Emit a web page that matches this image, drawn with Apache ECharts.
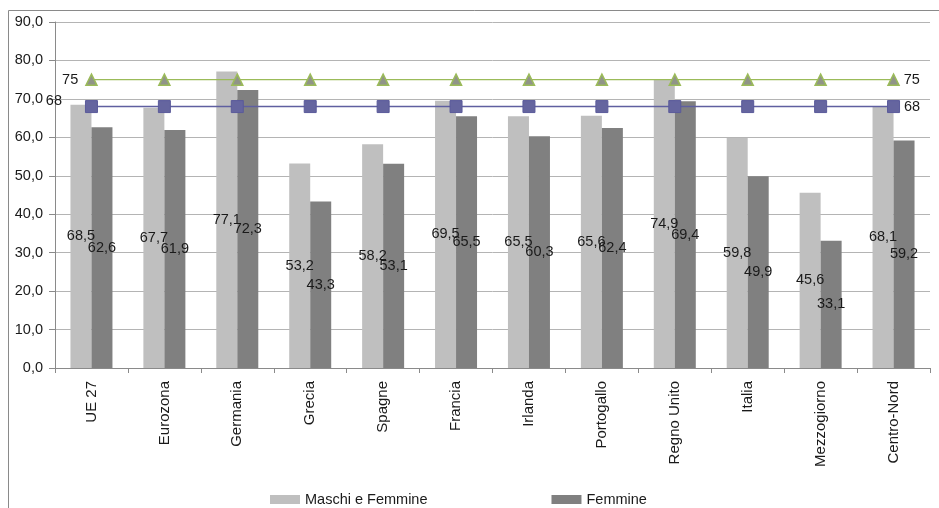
<!DOCTYPE html>
<html>
<head>
<meta charset="utf-8">
<script src="https://cdn.jsdelivr.net/npm/echarts@6/dist/echarts.min.js"></script>
<style>
  html, body { margin: 0; padding: 0; background: #fff; }
  #chart { width: 939px; height: 508px; }
</style>
</head>
<body>
<div id="chart"></div>
<script>
// Tasso di occupazione per area
const categories = ['UE 27', 'Eurozona', 'Germania', 'Grecia', 'Spagne', 'Francia', 'Irlanda', 'Portogallo', 'Regno Unito', 'Italia', 'Mezzogiorno', 'Centro-Nord'];
const maschiEFemmine = [68.5, 67.7, 77.1, 53.2, 58.2, 69.5, 65.5, 65.6, 74.9, 59.8, 45.6, 68.1];
const femmine = [62.6, 61.9, 72.3, 43.3, 53.1, 65.5, 60.3, 62.4, 69.4, 49.9, 33.1, 59.2];
const obiettivo75 = [75, 75, 75, 75, 75, 75, 75, 75, 75, 75, 75, 75];
const obiettivo68 = [68, 68, 68, 68, 68, 68, 68, 68, 68, 68, 68, 68];
const seriesNames = ['Maschi e Femmine', 'Femmine'];

const FONT = 'Liberation Sans';
const comma1 = v => v.toFixed(1).replace('.', ',');

// Only the first and last points of a target line carry a label
function endLabels(values, firstOffset) {
  return values.map((v, i) => {
    if (i === 0) {
      return { value: v, label: { show: true, position: 'left', offset: firstOffset } };
    }
    if (i === values.length - 1) {
      return { value: v, label: { show: true, position: 'right', distance: 4 } };
    }
    return v;
  });
}

const chart = echarts.init(document.getElementById('chart'), null, { renderer: 'canvas' });
chart.setOption({
  animation: false,
  backgroundColor: '#ffffff',
  textStyle: { fontFamily: FONT },
  graphic: [{
    type: 'rect',
    shape: { x: 8.5, y: 10.5, width: 940, height: 510 },
    style: { fill: 'none', stroke: '#8a8a8a', lineWidth: 1 },
    silent: true
  }],
  grid: { left: 55, right: 9, top: 22, bottom: 140, containLabel: false },
  legend: {
    data: seriesNames,
    left: 265,
    top: 487,
    itemWidth: 30,
    itemHeight: 9,
    itemGap: 124,
    icon: 'rect',
    textStyle: { fontFamily: FONT, fontSize: 14.5, color: '#1a1a1a' }
  },
  xAxis: {
    type: 'category',
    data: categories,
    boundaryGap: true,
    axisLine: { lineStyle: { color: '#8a8a8a' } },
    axisTick: { show: true, length: 5, alignWithLabel: false, lineStyle: { color: '#8a8a8a' } },
    axisLabel: { rotate: 90, margin: 13, fontFamily: FONT, fontSize: 15, color: '#1a1a1a', interval: 0 }
  },
  yAxis: {
    type: 'value',
    min: 0,
    max: 90,
    interval: 10,
    axisLine: { show: true, lineStyle: { color: '#8a8a8a' } },
    axisTick: { show: true, length: 6, lineStyle: { color: '#8a8a8a' } },
    splitLine: { lineStyle: { color: '#b4b4b4' } },
    axisLabel: { margin: 12, fontFamily: FONT, fontSize: 14.5, color: '#1a1a1a', formatter: comma1 }
  },
  series: [
    {
      name: seriesNames[0],
      type: 'bar',
      data: maschiEFemmine,
      barWidth: 21,
      barGap: '0%',
      itemStyle: { color: '#bfbfbf' },
      label: { show: true, position: 'inside', fontFamily: FONT, fontSize: 14.5, color: '#1a1a1a', formatter: p => comma1(p.value) },
      z: 2
    },
    {
      name: seriesNames[1],
      type: 'bar',
      data: femmine,
      barWidth: 21,
      barGap: '0%',
      itemStyle: { color: '#808080' },
      label: { show: true, position: 'inside', fontFamily: FONT, fontSize: 14.5, color: '#1a1a1a', formatter: p => comma1(p.value) },
      z: 2
    },
    {
      name: 'Obiettivo UE',
      type: 'line',
      data: endLabels(obiettivo75, [-2, 0]),
      symbol: 'triangle',
      symbolSize: 11,
      lineStyle: { color: '#9bbb59', width: 1.2 },
      itemStyle: { color: '#909488', borderColor: '#9bbb59', borderWidth: 1.5 },
      label: { show: false, fontFamily: FONT, fontSize: 14.5, color: '#1a1a1a' },
      z: 5
    },
    {
      name: 'Obiettivo Italia',
      type: 'line',
      data: endLabels(obiettivo68, [-18, -6]),
      symbol: 'rect',
      symbolSize: 12,
      lineStyle: { color: '#5f5fa0', width: 1.5 },
      itemStyle: { color: '#65659f', borderColor: '#5a5a9a', borderWidth: 1 },
      label: { show: false, fontFamily: FONT, fontSize: 14.5, color: '#1a1a1a' },
      z: 5
    }
  ]
});
</script>
</body>
</html>
